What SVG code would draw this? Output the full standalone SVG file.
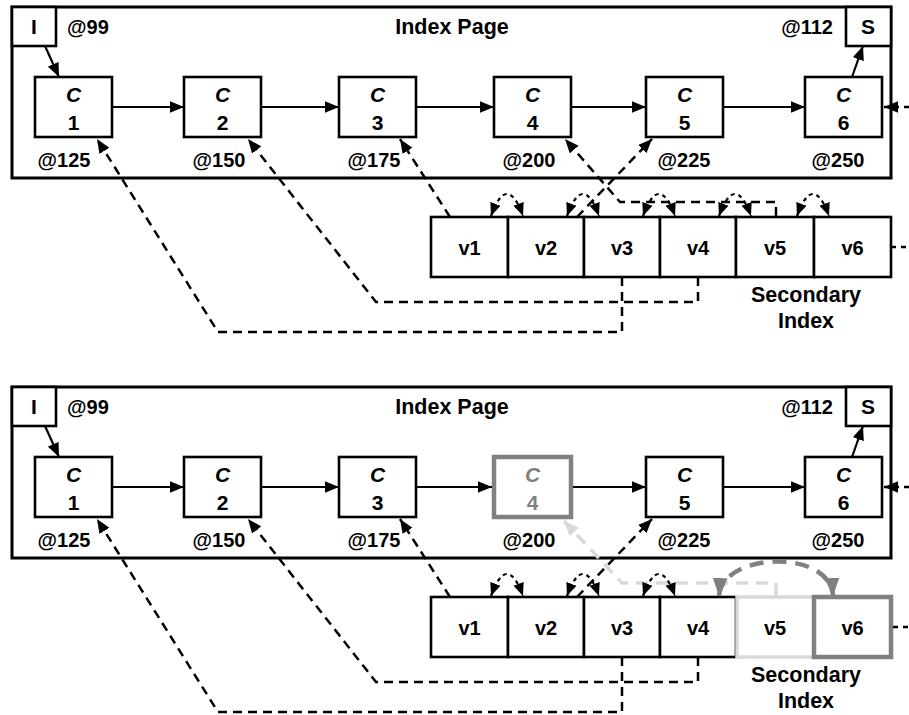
<svg xmlns="http://www.w3.org/2000/svg" width="909" height="715" viewBox="0 0 909 715">
<defs>
<style>
text{font-family:"Liberation Sans",Arial,sans-serif;font-weight:bold;font-size:20px;fill:#000}
.m{text-anchor:middle}
.it{font-style:italic}
.big{font-size:21.5px}
.cx{font-size:21px}
.frame{fill:#fff;stroke:#000;stroke-width:3}
.box{fill:#fff;stroke:#000;stroke-width:2.6}
.sol{fill:none;stroke:#000;stroke-width:2.2;marker-end:url(#ah)}
.dsh{fill:none;stroke:#000;stroke-width:2.5;stroke-dasharray:9,6;marker-end:url(#ah)}
.dot{fill:none;stroke:#000;stroke-width:2.5;stroke-dasharray:5,5}
.sw{fill:none;stroke:#000;stroke-width:2.2;stroke-dasharray:4,4;marker-start:url(#ah2);marker-end:url(#ah2)}
</style>
<marker id="ah" viewBox="0 0 12 10" refX="12" refY="5" markerWidth="14" markerHeight="12" markerUnits="userSpaceOnUse" orient="auto"><path d="M0,0L12,5L0,10z" fill="#000"/></marker>
<marker id="ah2" viewBox="0 0 12 10" refX="12" refY="5" markerWidth="13" markerHeight="12" markerUnits="userSpaceOnUse" orient="auto-start-reverse"><path d="M0,0L12,5L0,10z" fill="#000"/></marker>
<marker id="ahL" viewBox="0 0 12 10" refX="12" refY="5" markerWidth="15" markerHeight="13" markerUnits="userSpaceOnUse" orient="auto"><path d="M0,0L12,5L0,10z" fill="#d9d9d9"/></marker>
<marker id="ahG" viewBox="0 0 12 10" refX="12" refY="5" markerWidth="18" markerHeight="16" markerUnits="userSpaceOnUse" orient="auto-start-reverse"><path d="M0,0L12,5L0,10z" fill="#808080"/></marker>
</defs>

<!-- ===== TOP PANEL ===== -->
<g id="panel1">
<g id="p1-page"><rect class="frame" x="12" y="7" width="879" height="171"/>
<text class="m big" x="452" y="34">Index Page</text></g>
<g id="p1-I"><rect class="box" x="12" y="7" width="44" height="39"/><text class="m cx" x="34" y="34">I</text><text x="67" y="34">@99</text></g>
<g id="p1-S"><rect class="box" x="846" y="7" width="45" height="39"/><text class="m cx" x="868" y="34">S</text><text x="833" y="34" text-anchor="end">@112</text></g>
<g id="p1-c1"><rect class="box" x="35" y="77" width="77" height="60"/><text class="m it cx" x="73.5" y="102">C</text><text class="m cx" x="73.5" y="130">1</text><text class="m" x="64" y="167">@125</text></g>
<g id="p1-c2"><rect class="box" x="184" y="77" width="77" height="60"/><text class="m it cx" x="222.5" y="102">C</text><text class="m cx" x="222.5" y="130">2</text><text class="m" x="219" y="167">@150</text></g>
<g id="p1-c3"><rect class="box" x="339" y="77" width="77" height="60"/><text class="m it cx" x="377.5" y="102">C</text><text class="m cx" x="377.5" y="130">3</text><text class="m" x="374" y="167">@175</text></g>
<g id="p1-c4"><rect class="box" x="494" y="77" width="77" height="60"/><text class="m it cx" x="532.5" y="102">C</text><text class="m cx" x="532.5" y="130">4</text><text class="m" x="529" y="167">@200</text></g>
<g id="p1-c5"><rect class="box" x="646" y="77" width="77" height="60"/><text class="m it cx" x="684.5" y="102">C</text><text class="m cx" x="684.5" y="130">5</text><text class="m" x="684" y="167">@225</text></g>
<g id="p1-c6"><rect class="box" x="805" y="77" width="77" height="60"/><text class="m it cx" x="843.5" y="102">C</text><text class="m cx" x="843.5" y="130">6</text><text class="m" x="838" y="167">@250</text></g>
<g id="p1-sidx">
<rect class="box" x="431" y="217" width="77" height="60"/><text class="m" x="469.5" y="255">v1</text>
<rect class="box" x="508" y="217" width="76" height="60"/><text class="m" x="546" y="255">v2</text>
<rect class="box" x="584" y="217" width="76" height="60"/><text class="m" x="622" y="255">v3</text>
<rect class="box" x="660" y="217" width="76" height="60"/><text class="m" x="698" y="255">v4</text>
<rect class="box" x="736" y="217" width="78" height="60"/><text class="m" x="775" y="255">v5</text>
<rect class="box" x="814" y="217" width="77" height="60"/><text class="m" x="852.5" y="255">v6</text>
<text class="m big" x="806" y="302">Secondary</text><text class="m big" x="806" y="328">Index</text>
</g>
<g id="p1-connectors">
<path class="sol" d="M45,46L59,77"/>
<path class="sol" d="M852,77L863,46"/>
<path class="sol" d="M112,107L184,107"/>
<path class="sol" d="M261,107L339,107"/>
<path class="sol" d="M416,107L494,107"/>
<path class="sol" d="M571,107L646,107"/>
<path class="sol" d="M723,107L805,107"/>
<path class="dot" d="M909,107L884,107" style="marker-end:url(#ah)"/>
<path class="dot" d="M891,247L909,247"/>
<path class="dsh" d="M450,217L400,139"/>
<path class="dsh" d="M622,277L622,332L218,332L97,139"/>
<path class="dsh" d="M698,277L698,302L376,302L248,139"/>
<path class="dsh" d="M577,217L652,139"/>
<path class="dsh" d="M776,216L776,202L620,202L565,139"/>
<path class="sw" d="M491,216Q507,172 523,216"/>
<path class="sw" d="M567,216Q583,172 599,216"/>
<path class="sw" d="M643,216Q659,172 675,216"/>
<path class="sw" d="M719,216Q735,172 751,216"/>
<path class="sw" d="M797,216Q813,172 829,216"/>
</g>
</g>

<!-- ===== BOTTOM PANEL ===== -->
<g id="panel2" transform="translate(0,380)">
<g id="p2-page"><rect class="frame" x="12" y="7" width="879" height="171"/>
<text class="m big" x="452" y="34">Index Page</text></g>
<g id="p2-I"><rect class="box" x="12" y="7" width="44" height="39"/><text class="m cx" x="34" y="34">I</text><text x="67" y="34">@99</text></g>
<g id="p2-S"><rect class="box" x="846" y="7" width="45" height="39"/><text class="m cx" x="868" y="34">S</text><text x="833" y="34" text-anchor="end">@112</text></g>
<g id="p2-c1"><rect class="box" x="35" y="77" width="77" height="60"/><text class="m it cx" x="73.5" y="102">C</text><text class="m cx" x="73.5" y="130">1</text><text class="m" x="64" y="167">@125</text></g>
<g id="p2-c2"><rect class="box" x="184" y="77" width="77" height="60"/><text class="m it cx" x="222.5" y="102">C</text><text class="m cx" x="222.5" y="130">2</text><text class="m" x="219" y="167">@150</text></g>
<g id="p2-c3"><rect class="box" x="339" y="77" width="77" height="60"/><text class="m it cx" x="377.5" y="102">C</text><text class="m cx" x="377.5" y="130">3</text><text class="m" x="374" y="167">@175</text></g>
<g id="p2-c4"><rect x="494" y="77" width="77" height="60" fill="#fff" stroke="#808080" stroke-width="4.5"/><text class="m it cx" x="532.5" y="102" style="fill:#808080">C</text><text class="m cx" x="532.5" y="130" style="fill:#808080">4</text><text class="m" x="529" y="167">@200</text></g>
<g id="p2-c5"><rect class="box" x="646" y="77" width="77" height="60"/><text class="m it cx" x="684.5" y="102">C</text><text class="m cx" x="684.5" y="130">5</text><text class="m" x="684" y="167">@225</text></g>
<g id="p2-c6"><rect class="box" x="805" y="77" width="77" height="60"/><text class="m it cx" x="843.5" y="102">C</text><text class="m cx" x="843.5" y="130">6</text><text class="m" x="838" y="167">@250</text></g>
<g id="p2-sidx">
<rect class="box" x="431" y="217" width="77" height="60"/><text class="m" x="469.5" y="255">v1</text>
<rect class="box" x="508" y="217" width="76" height="60"/><text class="m" x="546" y="255">v2</text>
<rect class="box" x="584" y="217" width="76" height="60"/><text class="m" x="622" y="255">v3</text>
<rect class="box" x="660" y="217" width="76" height="60"/><text class="m" x="698" y="255">v4</text>
<rect x="737" y="217" width="77" height="60" fill="#fff" stroke="#d9d9d9" stroke-width="3.5"/><text class="m" x="775" y="255">v5</text>
<rect x="814" y="217" width="77" height="60" fill="#fff" stroke="#808080" stroke-width="4.5"/><text class="m" x="852.5" y="255">v6</text>
<text class="m big" x="806" y="302">Secondary</text><text class="m big" x="806" y="328">Index</text>
</g>
<g id="p2-connectors">
<path class="sol" d="M45,46L59,77"/>
<path class="sol" d="M852,77L863,46"/>
<path class="sol" d="M112,107L184,107"/>
<path class="sol" d="M261,107L339,107"/>
<path class="sol" d="M416,107L492,107"/>
<path class="sol" d="M573,107L646,107"/>
<path class="sol" d="M723,107L805,107"/>
<path class="dot" d="M909,107L884,107" style="marker-end:url(#ah)"/>
<path class="dot" d="M893,247L909,247"/>
<path class="dsh" d="M450,217L400,139"/>
<path class="dsh" d="M622,277L622,332L218,332L97,139"/>
<path class="dsh" d="M698,277L698,302L376,302L248,139"/>
<path d="M776,215L776,203L622,203L564,141" fill="none" stroke="#d9d9d9" stroke-width="3.5" stroke-dasharray="12,8" marker-end="url(#ahL)"/>
<path class="dsh" d="M577,217L652,139"/>
<path class="sw" d="M491,216Q507,172 523,216"/>
<path class="sw" d="M567,216Q583,172 599,216"/>
<path class="sw" d="M643,216Q659,172 675,216"/>
<path d="M719,216C722,172 830,168 833,216" fill="none" stroke="#808080" stroke-width="4.5" stroke-dasharray="14,9" marker-start="url(#ahG)" marker-end="url(#ahG)"/>
</g>
</g>
</svg>
